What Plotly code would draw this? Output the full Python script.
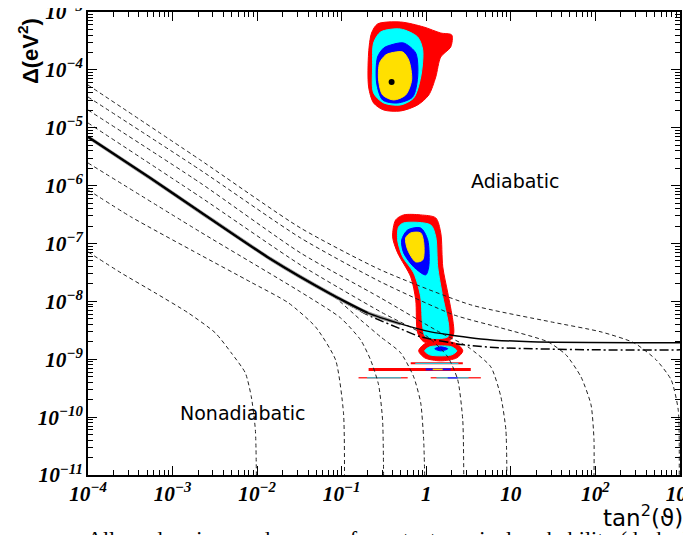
import numpy as np
import plotly.graph_objects as go

# ---------------- iso-probability curves (log10 tan^2, log10 Delta) ----------------
curve_a_lx = [-4, -3.609, -3.206, -2.815, -2.495, -2.306, -2.140, -2.069, -2.021, -2.009]
curve_a_ly = [-7.145, -7.508, -7.853, -8.199, -8.544, -8.889, -9.235, -9.649, -10.22, -11.0]
curve_b_lx = [-4, -3.491, -2.673, -2.081, -1.630, -1.310, -1.073, -0.979, -0.967]
curve_b_ly = [-6.074, -6.541, -7.197, -7.663, -8.026, -8.440, -9.010, -9.926, -11.0]
curve_c_lx = [-4, -2.673, -1.488, -1.014, -0.777, -0.659, -0.564, -0.517, -0.505]
curve_c_ly = [-5.608, -6.800, -7.836, -8.285, -8.665, -9.010, -9.442, -10.047, -11.0]
curve_h_lx = [-4, -3.265, -2.673, -1.844, -1.133, -0.777, -0.540, -0.303, -0.149, -0.066, -0.031, -0.019]
curve_h_ly = [-5.159, -5.867, -6.454, -7.266, -7.870, -8.320, -8.613, -8.889, -9.304, -9.753, -10.392, -11.0]
curve_d_lx = [-4, -2.673, -1.488, -0.540, 0.017, 0.254, 0.372, 0.431, 0.443]
curve_d_ly = [-4.917, -6.195, -7.370, -8.181, -8.613, -8.959, -9.356, -10.047, -11.0]
curve_e_lx = [-4, -2.673, -1.488, -0.540, 0.171, 0.491, 0.763, 0.882, 0.941, 0.953]
curve_e_ly = [-4.693, -5.953, -7.162, -7.940, -8.544, -8.786, -9.131, -9.649, -10.219, -11.0]
curve_f_lx = [-4, -2.673, -1.488, -0.540, 0.325, 0.882, 1.438, 1.652, 1.829, 1.948, 1.983, 1.983]
curve_f_ly = [-4.468, -5.729, -6.903, -7.663, -8.233, -8.458, -8.699, -8.924, -9.304, -9.788, -10.392, -11.0]
curve_g_lx = [-4, -2.673, -1.488, -0.540, 0.526, 1.474, 2.066, 2.457, 2.718, 2.896, 2.979, 2.991]
curve_g_ly = [-4.261, -5.556, -6.731, -7.456, -8.060, -8.354, -8.527, -8.717, -9.010, -9.356, -9.874, -11.0]

# adiabaticity boundary (solid) and dash-dot companion
solid_lx = [-4, -3.265, -2.673, -1.844, -1.133, -0.694, -0.303, 0.052, 0.645, 1.237, 3.0]
solid_ly = [-5.159, -5.867, -6.454, -7.266, -7.870, -8.199, -8.389, -8.527, -8.648, -8.699, -8.717]
dashdot_lx = [-4, -3.265, -2.673, -1.844, -1.133, -0.694, -0.303, -0.066, 0.443, 0.882, 2.066, 3.0]
dashdot_ly = [-5.159, -5.867, -6.454, -7.266, -7.870, -8.233, -8.475, -8.613, -8.751, -8.803, -8.838, -8.838]

# ---------------- allowed regions (log10 values) ----------------
lma_red_lx = [-0.576, -0.303, -0.030, 0.171, 0.301, 0.289, 0.171, 0.112, 0.029, -0.102, -0.303, -0.504, -0.623, -0.682, -0.682, -0.647]
lma_red_ly = [-3.207, -3.173, -3.259, -3.363, -3.397, -3.604, -3.777, -4.123, -4.434, -4.606, -4.710, -4.693, -4.572, -4.295, -3.708, -3.363]
lma_cyan_lx = [-0.540, -0.303, -0.102, -0.042, -0.066, -0.149, -0.303, -0.504, -0.623, -0.635, -0.623]
lma_cyan_ly = [-3.345, -3.294, -3.432, -3.656, -4.123, -4.485, -4.606, -4.572, -4.399, -3.950, -3.535]
lma_blue_lx = [-0.421, -0.268, -0.125, -0.102, -0.161, -0.339, -0.516, -0.587, -0.576, -0.504]
lma_blue_ly = [-3.570, -3.535, -3.708, -4.123, -4.468, -4.572, -4.520, -4.226, -3.777, -3.622]
lma_yel_lx = [-0.421, -0.279, -0.208, -0.173, -0.244, -0.385, -0.516, -0.564, -0.552, -0.481]
lma_yel_ly = [-3.708, -3.691, -3.829, -4.174, -4.434, -4.520, -4.434, -4.174, -3.881, -3.743]
best_fit_lx = [-0.410]
best_fit_ly = [-4.209]

low_red_lx = [-0.268, -0.066, 0.112, 0.171, 0.195, 0.254, 0.313, 0.325, 0.289, 0.135, -0.030, -0.102, -0.125, -0.184, -0.339, -0.398, -0.362]
low_red_ly = [-6.506, -6.506, -6.558, -6.817, -7.404, -7.853, -8.320, -8.544, -8.665, -8.717, -8.699, -8.544, -7.974, -7.577, -7.162, -6.886, -6.592]
low_cyan_lx = [-0.268, 0.052, 0.112, 0.135, 0.195, 0.266, 0.254, -0.007, -0.042, -0.066, -0.149, -0.279, -0.339, -0.327]
low_cyan_ly = [-6.644, -6.679, -6.886, -7.404, -7.922, -8.440, -8.613, -8.613, -8.440, -7.922, -7.508, -7.231, -6.938, -6.713]
low_blue_lx = [-0.220, -0.066, 0.017, 0.029, -0.007, -0.149, -0.268, -0.291]
low_blue_ly = [-6.765, -6.731, -6.938, -7.404, -7.542, -7.404, -7.162, -6.938]
low_yel_lx = [-0.184, -0.066, -0.030, -0.042, -0.125, -0.220, -0.244]
low_yel_ly = [-6.817, -6.817, -6.990, -7.283, -7.318, -7.110, -6.903]

ell_red_lx = [-0.090, -0.019, 0.171, 0.361, 0.432, 0.361, 0.171, -0.019]
ell_red_ly = [-8.855, -8.734, -8.682, -8.734, -8.855, -8.976, -9.027, -8.976]
ell_cyan_lx = [-0.019, 0.040, 0.171, 0.301, 0.361, 0.301, 0.171, 0.040]
ell_cyan_ly = [-8.855, -8.786, -8.769, -8.786, -8.855, -8.924, -8.941, -8.924]
ell_blue_lx = [0.100, 0.171, 0.254, 0.171]
ell_blue_ly = [-8.820, -8.786, -8.820, -8.855]

# thin bands (x-range, level, colour)
band_lx = [[-0.184, 0.432], [-0.130, 0.380], [-0.682, 0.526], [-0.007, 0.289], [0.076, 0.194],
           [-0.801, -0.220], [0.052, 0.645], [-0.700, -0.300], [0.120, 0.500], [0.254, 0.372]]
band_ly = [-9.071, -9.071, -9.175, -9.175, -9.175, -9.321, -9.321, -9.321, -9.321, -9.321]
band_col = ["#ff0000", "#00e8ff", "#ff0000", "#1010ff", "#ffd000",
            "#ff3030", "#ff3030", "#00e8ff", "#00e8ff", "#3030ff"]
band_w = [2, 1, 3, 2, 1.5, 1.5, 1.5, 1, 1, 1.5]

caption_text = "Allowed regions and curves of constant survival probability (dashed"

fig = go.Figure()

def p10(a):
    return [10 ** v for v in a]

def region(lx, ly, col):
    fig.add_trace(go.Scatter(x=p10(lx + lx[:1]), y=p10(ly + ly[:1]), mode="lines",
                             fill="toself", fillcolor=col, line=dict(color=col, width=1, shape="spline", smoothing=0.8),
                             hoverinfo="skip", showlegend=False))

for lx, ly, col in [(lma_red_lx, lma_red_ly, "#ff0000"), (lma_cyan_lx, lma_cyan_ly, "#00ffff"),
                    (lma_blue_lx, lma_blue_ly, "#0000ff"), (lma_yel_lx, lma_yel_ly, "#ffe000"),
                    (low_red_lx, low_red_ly, "#ff0000"), (low_cyan_lx, low_cyan_ly, "#00ffff"),
                    (low_blue_lx, low_blue_ly, "#0000ff"), (low_yel_lx, low_yel_ly, "#ffe000"),
                    (ell_red_lx, ell_red_ly, "#ff0000"), (ell_cyan_lx, ell_cyan_ly, "#00ffff"),
                    (ell_blue_lx, ell_blue_ly, "#0000ff")]:
    region(lx, ly, col)

for lx, ly, col, w in zip(band_lx, band_ly, band_col, band_w):
    fig.add_trace(go.Scatter(x=p10(lx), y=p10([ly, ly]), mode="lines",
                             line=dict(color=col, width=w), hoverinfo="skip", showlegend=False))

fig.add_trace(go.Scatter(x=p10(best_fit_lx), y=p10(best_fit_ly), mode="markers",
                         marker=dict(color="black", size=6), showlegend=False))

dashed = [(curve_a_lx, curve_a_ly), (curve_b_lx, curve_b_ly), (curve_c_lx, curve_c_ly),
          (curve_h_lx, curve_h_ly), (curve_d_lx, curve_d_ly), (curve_e_lx, curve_e_ly),
          (curve_f_lx, curve_f_ly), (curve_g_lx, curve_g_ly)]
for lx, ly in dashed:
    fig.add_trace(go.Scatter(x=p10(lx), y=p10(ly), mode="lines",
                             line=dict(color="#222222", width=1, dash="4px,3px", shape="spline", smoothing=0.6),
                             hoverinfo="skip", showlegend=False))

fig.add_trace(go.Scatter(x=p10(dashdot_lx), y=p10(dashdot_ly), mode="lines",
                         line=dict(color="black", width=1.5, dash="9px,3px,2px,3px", shape="spline", smoothing=0.6),
                         showlegend=False))
fig.add_trace(go.Scatter(x=p10(solid_lx[:7]), y=p10(solid_ly[:7]), mode="lines",
                         line=dict(color="#9a9a9a", width=3.6, shape="spline", smoothing=0.6), showlegend=False))
fig.add_trace(go.Scatter(x=p10(solid_lx), y=p10(solid_ly), mode="lines",
                         line=dict(color="black", width=1.5, shape="spline", smoothing=0.6), showlegend=False))
fig.add_trace(go.Scatter(x=p10(solid_lx[:6]), y=p10(solid_ly[:6]), mode="lines",
                         line=dict(color="black", width=2.2, shape="spline", smoothing=0.6), showlegend=False))

tickfont = dict(family="Liberation Serif", size=17, color="black", weight="bold", style="italic")
axis_common = dict(type="log", dtick=1, exponentformat="power", showgrid=False, zeroline=False,
                   showline=True, linecolor="black", linewidth=1.5, mirror="ticks", automargin=False,
                   ticklabeloverflow="allow",
                   ticks="inside", ticklen=9, tickwidth=1, tickcolor="black", tickfont=tickfont,
                   minor=dict(ticks="inside", ticklen=5, tickwidth=1, tickcolor="black", dtick="D1", showgrid=False))
fig.update_xaxes(range=[-4, 3], **axis_common)
fig.update_yaxes(range=[-11, -3], **axis_common)

fig.add_annotation(x=1.059, y=-5.919, xref="x", yref="y", text="Adiabatic", showarrow=False,
                   font=dict(family="DejaVu Sans", size=19, color="black"))
fig.add_annotation(x=-2.175, y=-9.926, xref="x", yref="y", text="Nonadiabatic", showarrow=False,
                   font=dict(family="DejaVu Sans", size=19, color="black"))
fig.add_annotation(x=-0.101, y=0.916, xref="paper", yref="paper", xanchor="center", yanchor="middle",
                   text="Δ(eV<sup>2</sup>)", textangle=-90,
                   showarrow=False, font=dict(family="Liberation Sans", size=22, color="black", weight="bold"))
fig.add_annotation(x=0.9375, y=-0.0885, xref="paper", yref="paper", xanchor="center", yanchor="middle",
                   text="tan<sup>2</sup>(ϑ)",
                   showarrow=False, font=dict(family="DejaVu Sans", size=23, color="black"))
fig.add_annotation(x=1.017, y=-0.1361, xref="paper", yref="paper", xanchor="right", yanchor="middle",
                   text=caption_text, showarrow=False,
                   font=dict(family="Liberation Serif", size=22, color="black"))

# page has an 8px body margin: figure of 683x527 fills the 691x535 window
fig.update_layout(width=683, height=527, margin=dict(l=80, r=11, t=4, b=60),
                  paper_bgcolor="white", plot_bgcolor="white", showlegend=False)
fig.write_html("out.html")
